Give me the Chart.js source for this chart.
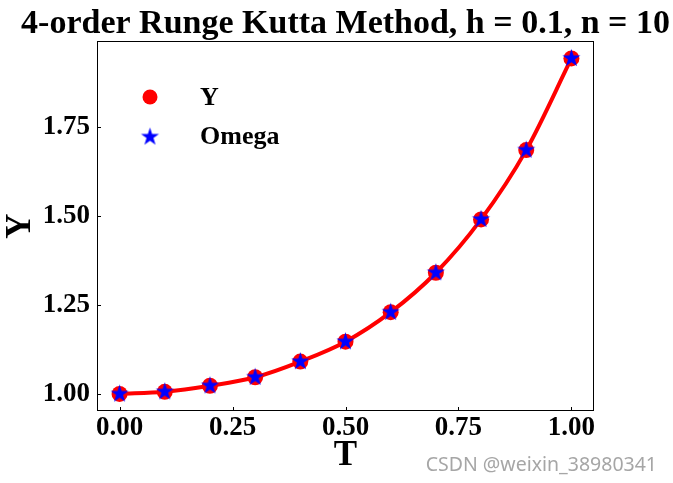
<!DOCTYPE html>
<html>
<head>
<meta charset="utf-8">
<script src="https://cdn.jsdelivr.net/npm/chart.js@4"></script>
<style>
  body { margin: 0; background: #fff; }
</style>
</head>
<body>
<canvas id="rk4" width="673" height="483"></canvas>
<script>
// step points t_i, h = 0.1
const T = [0.0, 0.1, 0.2, 0.3, 0.4, 0.5, 0.6, 0.7, 0.8, 0.9, 1.0];
// exact solution values
const Y = [1.000, 1.006, 1.023, 1.047, 1.091, 1.147, 1.230, 1.341, 1.491, 1.686, 1.944];
// RK4 approximations
const Omega = [1.000, 1.006, 1.023, 1.047, 1.091, 1.147, 1.230, 1.341, 1.491, 1.686, 1.944];

const xTicks = [0.0, 0.25, 0.5, 0.75, 1.0];
const yTicks = [1.0, 1.25, 1.5, 1.75];

const serif = "'Liberation Serif', 'Times New Roman', serif";

function starImage(r, color) {
    const c = document.createElement('canvas');
    c.width = c.height = Math.ceil(2 * r + 2);
    const g = c.getContext('2d');
    const cx = c.width / 2, cy = c.height / 2;
    g.beginPath();
    for (let i = 0; i < 10; i++) {
        const rad = i % 2 === 0 ? r : r * 0.382;
        const a = -Math.PI / 2 + i * Math.PI / 5;
        const px = cx + rad * Math.cos(a), py = cy + rad * Math.sin(a);
        if (i === 0) g.moveTo(px, py); else g.lineTo(px, py);
    }
    g.closePath();
    g.fillStyle = color;
    g.fill();
    return c;
}
const star = starImage(9.5, '#0000ff');

const pts = (ys) => T.map((t, i) => ({x: t, y: ys[i]}));

// frame, inward ticks, title, legend, watermark
const decor = {
    id: 'decor',
    afterDraw(chart) {
        const ctx = chart.ctx;
        const a = chart.chartArea;
        const sx = chart.scales.x, sy = chart.scales.y;
        ctx.save();
        ctx.strokeStyle = '#000';
        ctx.lineWidth = 1;
        ctx.strokeRect(a.left + 0.5, a.top + 0.5, a.right - a.left - 1, a.bottom - a.top - 1);
        ctx.beginPath();
        xTicks.forEach(v => {
            const px = Math.round(sx.getPixelForValue(v)) + 0.5;
            ctx.moveTo(px, a.bottom);
            ctx.lineTo(px, a.bottom - 4);
        });
        yTicks.forEach(v => {
            const py = Math.round(sy.getPixelForValue(v)) + 0.5;
            ctx.moveTo(a.left, py);
            ctx.lineTo(a.left + 4, py);
        });
        ctx.stroke();

        ctx.fillStyle = '#000';
        ctx.textAlign = 'center';
        ctx.textBaseline = 'alphabetic';
        ctx.font = 'bold 34px ' + serif;
        ctx.fillText('4-order Runge Kutta Method, h = 0.1, n = 10', (a.left + a.right) / 2, 33);

        // legend
        ctx.fillStyle = '#ff0000';
        ctx.beginPath();
        ctx.arc(150, 97, 7.5, 0, Math.PI * 2);
        ctx.fill();
        ctx.drawImage(star, 150 - star.width / 2, 137 - star.height / 2);
        ctx.fillStyle = '#000';
        ctx.textAlign = 'left';
        ctx.textBaseline = 'alphabetic';
        ctx.font = 'bold 26px ' + serif;
        ctx.fillText('Y', 200, 105);
        ctx.fillText('Omega', 200, 144);

        ctx.fillStyle = '#a6a6a6';
        ctx.font = "19.5px 'Noto Sans', sans-serif";
        ctx.textAlign = 'right';
        ctx.fillText('CSDN @weixin_38980341', 657, 471);
        ctx.restore();
    }
};

new Chart(document.getElementById('rk4'), {
    type: 'scatter',
    data: {
        datasets: [
            {
                label: 'Omega',
                data: pts(Omega),
                pointStyle: star,
                pointRadius: 9,
                order: 1
            },
            {
                label: 'Y',
                data: pts(Y),
                pointStyle: 'circle',
                pointRadius: 8,
                backgroundColor: '#ff0000',
                borderWidth: 0,
                order: 2
            },
            {
                label: 'exact',
                data: pts(Y),
                showLine: true,
                cubicInterpolationMode: 'monotone',
                borderColor: '#ff0000',
                borderWidth: 4,
                pointRadius: 0,
                order: 3
            }
        ]
    },
    options: {
        responsive: false,
        animation: false,
        layout: { padding: { top: 41, left: 0, right: 79, bottom: 0 } },
        plugins: {
            legend: { display: false },
            tooltip: { enabled: false }
        },
        scales: {
            x: {
                type: 'linear',
                min: -0.05,
                max: 1.05,
                grid: { display: false, drawTicks: false },
                border: { display: false },
                afterBuildTicks: s => { s.ticks = xTicks.map(v => ({value: v})); },
                afterFit: s => { s.height = 72; },
                ticks: {
                    padding: 1,
                    color: '#000',
                    font: { family: serif, size: 27, weight: 'bold' },
                    callback: v => v.toFixed(2)
                },
                title: {
                    display: true,
                    text: 'T',
                    color: '#000',
                    padding: { top: 0, bottom: 6 },
                    font: { family: serif, size: 35, weight: 'bold' }
                }
            },
            y: {
                type: 'linear',
                min: 0.952,
                max: 1.993,
                grid: { display: false, drawTicks: false },
                border: { display: false },
                afterBuildTicks: s => { s.ticks = yTicks.map(v => ({value: v})); },
                afterFit: s => { s.width = 97; },
                ticks: {
                    padding: 7,
                    color: '#000',
                    font: { family: serif, size: 27, weight: 'bold' },
                    callback: v => v.toFixed(2)
                },
                title: {
                    display: true,
                    text: 'Y',
                    color: '#000',
                    padding: { top: 0, bottom: 0 },
                    font: { family: serif, size: 35, weight: 'bold' }
                }
            }
        }
    },
    plugins: [decor]
});
</script>
</body>
</html>
